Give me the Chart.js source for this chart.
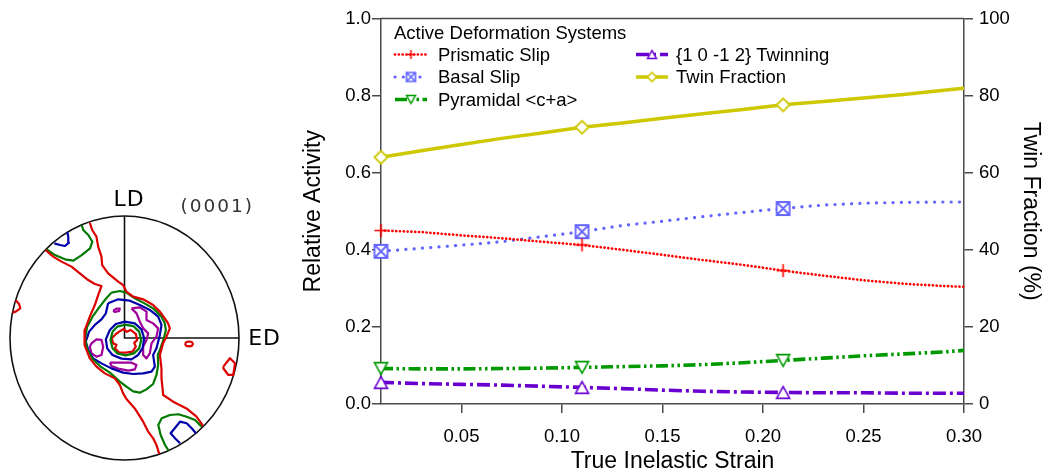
<!DOCTYPE html>
<html>
<head>
<meta charset="utf-8">
<script src="https://cdn.jsdelivr.net/npm/chart.js@4/dist/chart.umd.min.js"></script>
<style>
  html, body { margin: 0; padding: 0; background: #fff; }
  #wrap { position: relative; width: 1043px; height: 475px; overflow: hidden; background: #fff; }
  #pole { position: absolute; left: 0; top: 0; }
  #main { position: absolute; left: 290px; top: 0; }
</style>
</head>
<body>
<div id="wrap">
  <canvas id="pole" width="290" height="475"></canvas>
  <canvas id="main" width="753" height="475"></canvas>
</div>
<script>
// ---------- relative activity of deformation systems vs. true inelastic strain ----------
const strain       = [0.01, 0.03, 0.05, 0.07, 0.09, 0.11, 0.13, 0.15, 0.17, 0.19, 0.21, 0.23, 0.25, 0.27, 0.29, 0.30];
const prismatic    = [0.450, 0.446, 0.4375, 0.430, 0.421, 0.4125, 0.400, 0.387, 0.3735, 0.361, 0.346, 0.333, 0.321, 0.312, 0.306, 0.304];
const basal        = [0.396, 0.404, 0.412, 0.421, 0.434, 0.447, 0.463, 0.474, 0.486, 0.497, 0.507, 0.516, 0.521, 0.523, 0.524, 0.524];
const pyramidal    = [0.092, 0.091, 0.091, 0.092, 0.093, 0.095, 0.097, 0.099, 0.102, 0.107, 0.113, 0.119, 0.125, 0.130, 0.135, 0.139];
const twinning     = [0.056, 0.053, 0.051, 0.049, 0.046, 0.043, 0.040, 0.036, 0.033, 0.031, 0.030, 0.029, 0.029, 0.028, 0.028, 0.028];
const twinFraction = [64.0, 65.7, 67.3, 68.9, 70.3, 71.8, 72.9, 74.1, 75.3, 76.4, 77.6, 78.5, 79.4, 80.3, 81.4, 81.9];
const markedStrains = [0.01, 0.11, 0.21];

const strainTicks   = [0.05, 0.10, 0.15, 0.20, 0.25, 0.30];
const activityTicks = [0, 0.2, 0.4, 0.6, 0.8, 1.0];
const fractionTicks = [0, 20, 40, 60, 80, 100];

// ---------- (0001) pole figure contours, in percent of the projection radius ----------
const redBandUpper = [[-30.3,94.5],[-28.2,88.5],[-24.5,83.1],[-23.0,74.9],[-20.1,66.7],[-19.5,59.8],[-14.3,53.0],[-5.5,46.2],[-1.2,43.4],[1.7,38.0],[7.6,33.9],[16.3,31.7],[25.0,27.0],[30.9,21.6],[35.2,16.1],[38.1,12.0],[39.6,7.9],[36.7,1.1],[33.8,-4.0],[30.9,-13.9],[32.3,-24.9],[32.3,-33.1],[33.8,-46.7],[42.5,-52.2],[54.1,-57.7],[62.9,-64.5],[68.6,-72.0]];
const redBandLower = [[-69.0,72.1],[-62.3,66.7],[-55.0,62.6],[-46.3,58.5],[-39.0,53.0],[-31.7,47.5],[-25.9,44.3],[-20.1,42.6],[-23.0,35.2],[-25.9,27.0],[-30.3,17.5],[-34.6,6.6],[-35.2,-1.6],[-34.6,-5.7],[-30.3,-16.7],[-24.5,-23.5],[-17.2,-29.0],[-8.4,-33.1],[-4.1,-38.5],[-1.2,-45.4],[1.7,-50.0],[9.0,-57.7],[16.3,-68.6],[20.7,-76.8],[25.0,-82.2],[27.9,-87.7],[30.3,-95.0]];
const redEdgeWest  = [[-95.0,31.0],[-92.1,27.9],[-91.0,24.3],[-95.0,21.6],[-97.8,20.8]];
const redSpeckEast = [[52.8,-4.9],[54.0,-3.3],[56.3,-2.9],[58.8,-3.3],[59.8,-4.9],[58.8,-6.5],[56.3,-6.9],[54.0,-6.5]];
const redPatchEast = [[86.3,-23.5],[92.1,-16.6],[96.5,-20.7],[95.0,-30.3],[90.7,-30.3],[86.3,-24.8]];
const greenNorthwest = [[-67.9,72.7],[-60.7,68.0],[-52.0,64.5],[-44.7,63.4],[-37.4,68.0],[-30.1,73.5],[-28.1,78.9],[-31.6,84.4],[-36.0,88.5],[-37.4,92.6]];
const blueNorthwest  = [[-61.3,77.6],[-56.3,76.2],[-52.0,75.4],[-48.5,78.1],[-49.1,83.0],[-50.0,87.1]];
const greenSoutheast = [[38.5,-92.3],[35.4,-87.7],[31.6,-79.5],[29.5,-71.3],[32.5,-65.8],[39.7,-63.1],[47.0,-62.5],[54.3,-64.5],[61.6,-67.2],[67.4,-72.7]];
const blueSoutheast  = [[48.5,-86.3],[44.1,-82.2],[40.3,-78.1],[42.6,-75.4],[48.5,-68.6],[54.3,-69.9],[58.7,-74.0],[62.4,-78.1]];
const greenCoreOuter = [[-11.4,37.2],[-4.1,38.5],[1.7,37.2],[9.0,32.5],[16.3,29.0],[25.0,24.3],[32.3,17.5],[35.2,12.0],[36.1,6.6],[34.4,-0.3],[31.4,-8.5],[29.1,-13.9],[29.4,-22.1],[27.9,-30.3],[25.0,-37.7],[19.2,-42.1],[13.4,-44.8],[7.6,-43.7],[1.7,-39.9],[-4.1,-35.8],[-12.8,-28.4],[-21.5,-23.0],[-27.9,-17.2],[-32.6,-9.3],[-34.4,-0.3],[-32.6,9.3],[-27.9,17.5],[-22.1,25.1],[-17.2,31.1]];
const blueCoreOuter  = [[-14.3,28.4],[-5.5,31.7],[4.7,30.6],[13.4,27.0],[22.1,23.0],[29.4,17.5],[32.3,10.7],[30.9,2.5],[27.9,-8.5],[25.0,-13.9],[26.5,-23.5],[23.6,-27.6],[16.3,-29.0],[7.6,-29.5],[-1.2,-28.4],[-11.4,-24.9],[-20.1,-20.8],[-27.4,-16.7],[-31.7,-9.8],[-33.8,-3.0],[-30.9,5.2],[-25.9,10.7],[-20.1,15.3],[-16.3,20.2]];
const blueCoreInner  = [[-12.8,6.6],[-7.6,11.5],[0.3,13.4],[9.0,12.0],[14.8,7.1],[17.2,-0.3],[15.7,-8.5],[11.9,-13.9],[6.1,-17.5],[-2.6,-16.9],[-10.5,-13.9],[-15.1,-8.5],[-16.3,-1.1]];
const greenCoreInner = [[-10.5,5.2],[-6.4,9.3],[0.3,10.9],[7.6,9.8],[12.8,5.2],[14.6,-1.6],[12.8,-8.5],[8.2,-12.6],[1.2,-14.2],[-6.4,-12.6],[-10.5,-8.5],[-12.2,-1.6]];
const redCoreInner   = [[-8.4,2.5],[-4.7,5.2],[-0.6,7.4],[2.0,5.0],[5.2,6.6],[9.9,3.3],[11.1,-1.6],[8.5,-4.0],[9.9,-7.1],[7.0,-11.2],[1.2,-12.0],[-4.7,-12.0],[-8.4,-8.5],[-7.0,-5.5],[-9.9,-4.4],[-11.1,-0.3]];
const magentaNorth = [[-9.9,22.4],[-7.0,24.0],[-4.1,24.0],[-4.7,22.1],[-8.4,21.3]];
const magentaEast  = [[6.1,24.3],[13.4,25.1],[19.2,21.6],[19.2,14.8],[25.0,12.0],[29.4,7.9],[27.9,1.1],[23.6,-4.4],[22.1,-12.6],[19.2,-16.7],[16.3,-13.9],[16.3,-7.1],[19.2,-1.6],[20.7,3.8],[16.3,7.9],[13.4,13.4],[10.5,20.2]];
const magentaWest  = [[-28.8,-4.4],[-24.5,-1.1],[-20.1,-1.6],[-18.6,-7.1],[-20.1,-13.9],[-24.5,-15.3],[-28.8,-12.6],[-30.3,-7.1]];
const magentaSouth = [[-12.8,-20.2],[-4.1,-20.2],[6.1,-20.2],[10.5,-22.1],[9.0,-25.7],[3.2,-26.8],[-5.5,-25.1],[-11.4,-23.0]];

const FONT = 'Liberation Sans';
const POLE_FONT = 'DejaVu Sans';
const AXIS = '#4a4a4a';
Chart.defaults.font.family = FONT;
Chart.defaults.color = '#000';

// ---------- marker glyphs ----------
function makeMarker(kind, color, size, lw) {
  const pad = 2;
  const s = Math.ceil(size + 2 * pad);
  const c = document.createElement('canvas');
  c.width = s; c.height = s;
  const g = c.getContext('2d');
  const m = s / 2, h = size / 2;
  g.strokeStyle = color; g.lineWidth = lw; g.fillStyle = '#fff';
  g.lineJoin = 'miter';
  g.beginPath();
  if (kind === 'plus') {
    g.moveTo(m - h, m); g.lineTo(m + h, m);
    g.moveTo(m, m - h); g.lineTo(m, m + h);
    g.stroke();
  } else if (kind === 'squareX') {
    g.rect(m - h, m - h, size, size); g.fill();
    g.moveTo(m - h, m - h); g.lineTo(m + h, m + h);
    g.moveTo(m + h, m - h); g.lineTo(m - h, m + h);
    g.stroke();
  } else if (kind === 'triDown') {
    const th = size * 0.9;
    g.moveTo(m - h, m - th / 2); g.lineTo(m + h, m - th / 2); g.lineTo(m, m + th / 2); g.closePath();
    g.fill(); g.stroke();
  } else if (kind === 'triUp') {
    const th = size * 0.9;
    g.moveTo(m - h, m + th / 2); g.lineTo(m + h, m + th / 2); g.lineTo(m, m - th / 2); g.closePath();
    g.fill(); g.stroke();
  } else if (kind === 'diamond') {
    g.moveTo(m - h, m); g.lineTo(m, m - h); g.lineTo(m + h, m); g.lineTo(m, m + h); g.closePath();
    g.fill(); g.stroke();
  }
  return c;
}

const C_PRISM = '#ff0000', C_BASAL = '#6464ff', C_PYR = '#009900', C_TWIN = '#6a00d0', C_FRAC = '#cdc800';

const seriesDefs = [
  { label: 'Prismatic Slip',      vals: prismatic,    axis: 'y',  color: C_PRISM, width: 2.7, dash: [0.1, 3.7], cap: 'round', marker: 'plus',    mlw: 1.6 },
  { label: 'Basal Slip',          vals: basal,        axis: 'y',  color: C_BASAL, width: 3.2, dash: [0.1, 8.2], cap: 'round', marker: 'squareX', mlw: 1.8 },
  { label: 'Pyramidal <c+a>',     vals: pyramidal,    axis: 'y',  color: C_PYR,   width: 3.6, dash: [12, 3.5, 2.5, 3.5, 2.5, 3.5], cap: 'butt', marker: 'triDown', mlw: 1.6 },
  { label: '{1 0 -1 2} Twinning', vals: twinning,     axis: 'y',  color: C_TWIN,  width: 3.6, dash: [13, 4, 3, 4], cap: 'butt', marker: 'triUp',   mlw: 1.6 },
  { label: 'Twin Fraction',       vals: twinFraction, axis: 'y2', color: C_FRAC,  width: 3.5, dash: [], cap: 'butt', marker: 'diamond', mlw: 1.8 }
];

const legendMarkers = seriesDefs.map(d => makeMarker(d.marker, d.color, 9, d.mlw * 0.9));
const markerRadius = strain.map(x => markedStrains.includes(x) ? 6 : 0);

const datasets = seriesDefs.map(d => ({
  label: d.label,
  data: strain.map((x, i) => ({ x: x, y: d.vals[i] })),
  yAxisID: d.axis,
  borderColor: d.color,
  backgroundColor: d.color,
  borderWidth: d.width,
  borderDash: d.dash,
  borderCapStyle: d.cap,
  borderJoinStyle: 'round',
  pointStyle: makeMarker(d.marker, d.color, 13, d.mlw),
  pointRadius: markerRadius,
  pointHoverRadius: markerRadius,
  tension: 0,
  fill: false,
  clip: false
}));

// frame line across the top of the plot
const topFrame = {
  id: 'topFrame',
  afterDraw(chart) {
    const a = chart.chartArea, ctx = chart.ctx;
    ctx.save();
    ctx.strokeStyle = AXIS; ctx.lineWidth = 1.5;
    ctx.beginPath(); ctx.moveTo(a.left, a.top); ctx.lineTo(a.right, a.top); ctx.stroke();
    ctx.restore();
  }
};

// two-column legend with a heading, drawn inside the plot area
const systemsLegend = {
  id: 'systemsLegend',
  afterDraw(chart) {
    const a = chart.chartArea, ctx = chart.ctx;
    ctx.save();
    ctx.font = '18.5px "' + FONT + '"';
    ctx.fillStyle = '#000';
    ctx.textBaseline = 'middle';
    ctx.textAlign = 'left';
    ctx.fillText('Active Deformation Systems', a.left + 13, a.top + 15);
    const cols = [{ line: a.left + 14, text: a.left + 57 }, { line: a.left + 255, text: a.left + 295 }];
    chart.data.datasets.forEach((ds, i) => {
      const col = cols[i < 3 ? 0 : 1];
      const row = i < 3 ? i : i - 3;
      const y = a.top + 36 + row * 22.5;
      ctx.save();
      ctx.strokeStyle = ds.borderColor;
      ctx.lineWidth = ds.borderWidth;
      ctx.lineCap = ds.borderCapStyle;
      ctx.setLineDash(ds.borderDash);
      ctx.beginPath(); ctx.moveTo(col.line, y); ctx.lineTo(col.line + 32, y); ctx.stroke();
      ctx.restore();
      const mk = legendMarkers[i];
      ctx.drawImage(mk, col.line + 16 - mk.width / 2, y - mk.height / 2);
      ctx.fillText(ds.label, col.text, y + 1);
    });
    ctx.restore();
  }
};

const tickFont = { family: FONT, size: 18.5 };
const titleFont = { family: FONT, size: 23, lineHeight: 1 };

new Chart(document.getElementById('main'), {
  type: 'line',
  data: { datasets: datasets },
  plugins: [topFrame, systemsLegend],
  options: {
    responsive: false,
    animation: false,
    devicePixelRatio: 1,
    layout: { padding: { top: 18.5, left: 0, right: 0, bottom: 0 } },
    plugins: { legend: { display: false }, tooltip: { enabled: false } },
    scales: {
      x: {
        type: 'linear', min: 0.01, max: 0.30,
        afterBuildTicks(s) { s.ticks = strainTicks.map(v => ({ value: v })); },
        afterFit(s) { s.height = 71; },
        ticks: { font: tickFont, color: '#000', padding: 13, maxRotation: 0, autoSkip: false, callback: v => v.toFixed(2) },
        grid: { drawOnChartArea: false, drawTicks: true, tickLength: 9, color: AXIS, lineWidth: 1.5 },
        border: { display: true, color: AXIS, width: 1.5 },
        title: { display: true, text: 'True Inelastic Strain', font: titleFont, color: '#000', padding: { top: 0, bottom: 1.5 } }
      },
      y: {
        type: 'linear', position: 'left', min: 0, max: 1,
        afterBuildTicks(s) { s.ticks = activityTicks.map(v => ({ value: v })); },
        afterFit(s) { s.width = 91; },
        ticks: { font: tickFont, color: '#000', padding: 1, callback: v => v.toFixed(1) },
        grid: { drawOnChartArea: false, drawTicks: true, tickLength: 9, color: AXIS, lineWidth: 1.5 },
        border: { display: true, color: AXIS, width: 1.5 },
        title: { display: true, text: 'Relative Activity', font: titleFont, color: '#000', padding: { top: 12, bottom: 0 } }
      },
      y2: {
        type: 'linear', position: 'right', min: 0, max: 100,
        afterBuildTicks(s) { s.ticks = fractionTicks.map(v => ({ value: v })); },
        afterFit(s) { s.width = 79; },
        ticks: { font: tickFont, color: '#000', padding: 6, callback: v => String(v) },
        grid: { drawOnChartArea: false, drawTicks: true, tickLength: 9, color: AXIS, lineWidth: 1.5 },
        border: { display: true, color: AXIS, width: 1.5 },
        title: { display: true, text: 'Twin Fraction (%)', font: titleFont, color: '#000', padding: { top: 1.5, bottom: 0 } }
      }
    }
  }
});

// ---------- pole figure ----------
const contours = [
  { pts: redBandUpper,   color: '#dd0000', closed: false },
  { pts: redBandLower,   color: '#dd0000', closed: false },
  { pts: redEdgeWest,    color: '#dd0000', closed: false },
  { pts: redSpeckEast,   color: '#dd0000', closed: true },
  { pts: redPatchEast,   color: '#dd0000', closed: true },
  { pts: greenNorthwest, color: '#007a00', closed: false },
  { pts: blueNorthwest,  color: '#0000aa', closed: false },
  { pts: greenSoutheast, color: '#007a00', closed: false },
  { pts: blueSoutheast,  color: '#0000aa', closed: false },
  { pts: greenCoreOuter, color: '#007a00', closed: true },
  { pts: blueCoreOuter,  color: '#0000aa', closed: true },
  { pts: blueCoreInner,  color: '#0000aa', closed: true },
  { pts: greenCoreInner, color: '#007a00', closed: true },
  { pts: redCoreInner,   color: '#dd0000', closed: true },
  { pts: magentaNorth,   color: '#a0009a', closed: true },
  { pts: magentaEast,    color: '#a0009a', closed: true },
  { pts: magentaWest,    color: '#a0009a', closed: true },
  { pts: magentaSouth,   color: '#a0009a', closed: true }
];

const poleFrame = {
  id: 'poleFrame',
  beforeDatasetsDraw(chart) {
    const sx = chart.scales.x, sy = chart.scales.y, ctx = chart.ctx;
    const cx = sx.getPixelForValue(0), cy = sy.getPixelForValue(0);
    const rx = sx.getPixelForValue(100) - cx, ry = cy - sy.getPixelForValue(100);
    ctx.save();
    ctx.strokeStyle = '#111'; ctx.lineWidth = 1.6;
    ctx.beginPath(); ctx.ellipse(cx, cy, rx, ry, 0, 0, Math.PI * 2); ctx.stroke();
    ctx.beginPath();
    ctx.moveTo(cx, sy.getPixelForValue(100)); ctx.lineTo(cx, cy);
    ctx.lineTo(sx.getPixelForValue(100), cy);
    ctx.stroke();
    ctx.restore();
  },
  afterDraw(chart) {
    const sx = chart.scales.x, sy = chart.scales.y, ctx = chart.ctx;
    ctx.save();
    ctx.textBaseline = 'middle';
    ctx.fillStyle = '#000';
    ctx.font = '22px "' + POLE_FONT + '"';
    ctx.letterSpacing = '1px';
    ctx.textAlign = 'center';
    ctx.fillText('LD', sx.getPixelForValue(4), sy.getPixelForValue(113));
    ctx.textAlign = 'left';
    ctx.fillText('ED', sx.getPixelForValue(108), sy.getPixelForValue(-1));
    ctx.font = '18.5px "' + POLE_FONT + '"';
    ctx.letterSpacing = '2px';
    ctx.fillStyle = '#333';
    ctx.textAlign = 'center';
    ctx.fillText('(0001)', sx.getPixelForValue(81), sy.getPixelForValue(107));
    ctx.restore();
  }
};

new Chart(document.getElementById('pole'), {
  type: 'scatter',
  data: {
    datasets: contours.map(c => ({
      data: (c.closed ? c.pts.concat([c.pts[0]]) : c.pts).map(p => ({ x: p[0], y: p[1] })),
      showLine: true,
      borderColor: c.color,
      borderWidth: 2.2,
      borderJoinStyle: 'round',
      pointRadius: 0,
      pointHoverRadius: 0,
      tension: 0,
      fill: false,
      clip: false
    }))
  },
  plugins: [poleFrame],
  options: {
    responsive: false,
    animation: false,
    devicePixelRatio: 1,
    layout: { padding: { left: 10, right: 51, top: 216, bottom: 15 } },
    plugins: { legend: { display: false }, tooltip: { enabled: false } },
    scales: {
      x: { type: 'linear', min: -100, max: 100, display: false },
      y: { type: 'linear', min: -100, max: 100, display: false }
    }
  }
});
</script>
</body>
</html>
